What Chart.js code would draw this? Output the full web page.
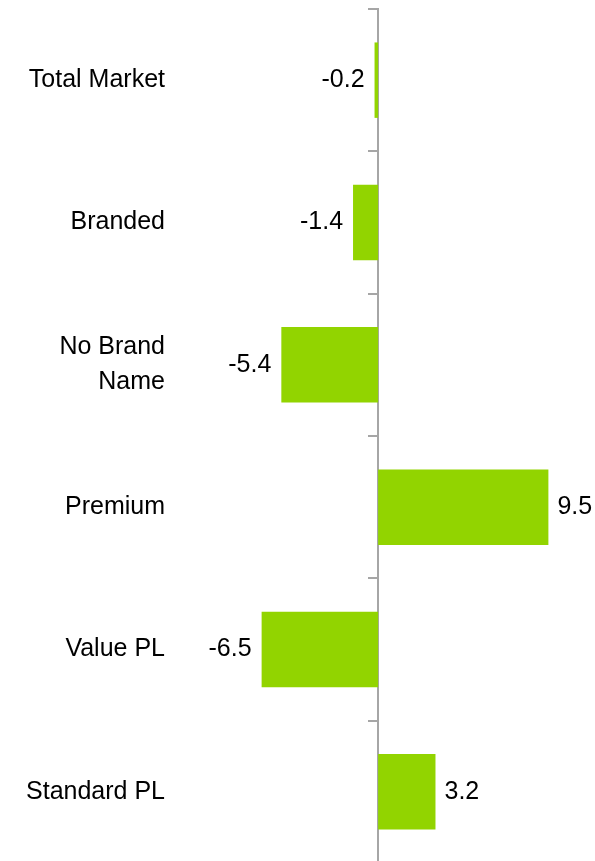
<!DOCTYPE html>
<html>
<head>
<meta charset="utf-8">
<script src="https://cdn.jsdelivr.net/npm/chart.js@4/dist/chart.umd.min.js"></script>
<style>
  html, body { margin: 0; padding: 0; background: #fff; overflow: hidden; }
  #chart-parent { width: 595px; height: 864px; }
</style>
</head>
<body>
<div id="chart-parent"><canvas id="chart" width="595" height="864"></canvas></div>
<script>
var segments = ['Total Market', 'Branded', ['No Brand', 'Name'], 'Premium', 'Value PL', 'Standard PL'];
var changes = [-0.2, -1.4, -5.4, 9.5, -6.5, 3.2];
var axisMin = -11.5;
var axisMax = 12.1;

var barColor = '#92d400';
var axisColor = '#a6a6a6';
var fontFamily = '"Liberation Sans", Arial, sans-serif';

Chart.defaults.font.family = fontFamily;
Chart.defaults.color = '#000';

// value text next to the end of each bar
var valueLabels = {
	id: 'valueLabels',
	afterDatasetsDraw: function(chart) {
		var ctx = chart.ctx;
		var meta = chart.getDatasetMeta(0);
		ctx.save();
		ctx.font = '25px ' + fontFamily;
		ctx.fillStyle = '#000';
		ctx.textBaseline = 'middle';
		meta.data.forEach(function(bar, i) {
			var v = changes[i];
			if (v < 0) {
				ctx.textAlign = 'right';
				ctx.fillText(v.toFixed(1), bar.x - 10, bar.y);
			} else {
				ctx.textAlign = 'left';
				ctx.fillText(v.toFixed(1), bar.x + 9, bar.y);
			}
		});
		ctx.restore();
	}
};

// keep the label height from pushing the plot area in
function noVerticalPadding(scale) {
	scale.paddingTop = 0;
	scale.paddingBottom = 0;
}

new Chart(document.getElementById('chart'), {
	type: 'bar',
	data: {
		labels: segments,
		datasets: [{
			data: changes,
			backgroundColor: barColor,
			borderWidth: 0,
			barPercentage: 0.53,
			categoryPercentage: 1
		}]
	},
	options: {
		indexAxis: 'y',
		responsive: false,
		animation: false,
		layout: { padding: { top: 9, bottom: 1, left: 0, right: 0 } },
		plugins: {
			legend: { display: false },
			tooltip: { enabled: false }
		},
		scales: {
			x: {
				display: false,
				min: axisMin,
				max: axisMax
			},
			y: {
				afterFit: function(scale) {
					scale.width = 172;
					noVerticalPadding(scale);
				},
				grid: { display: false, drawTicks: false },
				border: { display: false },
				ticks: {
					padding: 7,
					font: { size: 25, lineHeight: 1.4 },
					color: '#000'
				}
			},
			// zero line with the category tick marks
			y2: {
				type: 'category',
				position: { x: 0 },
				offset: true,
				z: 1,
				afterFit: noVerticalPadding,
				grid: {
					offset: true,
					drawOnChartArea: false,
					color: axisColor,
					lineWidth: 2,
					tickLength: 9
				},
				border: { color: axisColor, width: 2 },
				ticks: { display: false }
			}
		}
	},
	plugins: [valueLabels]
});
</script>
</body>
</html>
